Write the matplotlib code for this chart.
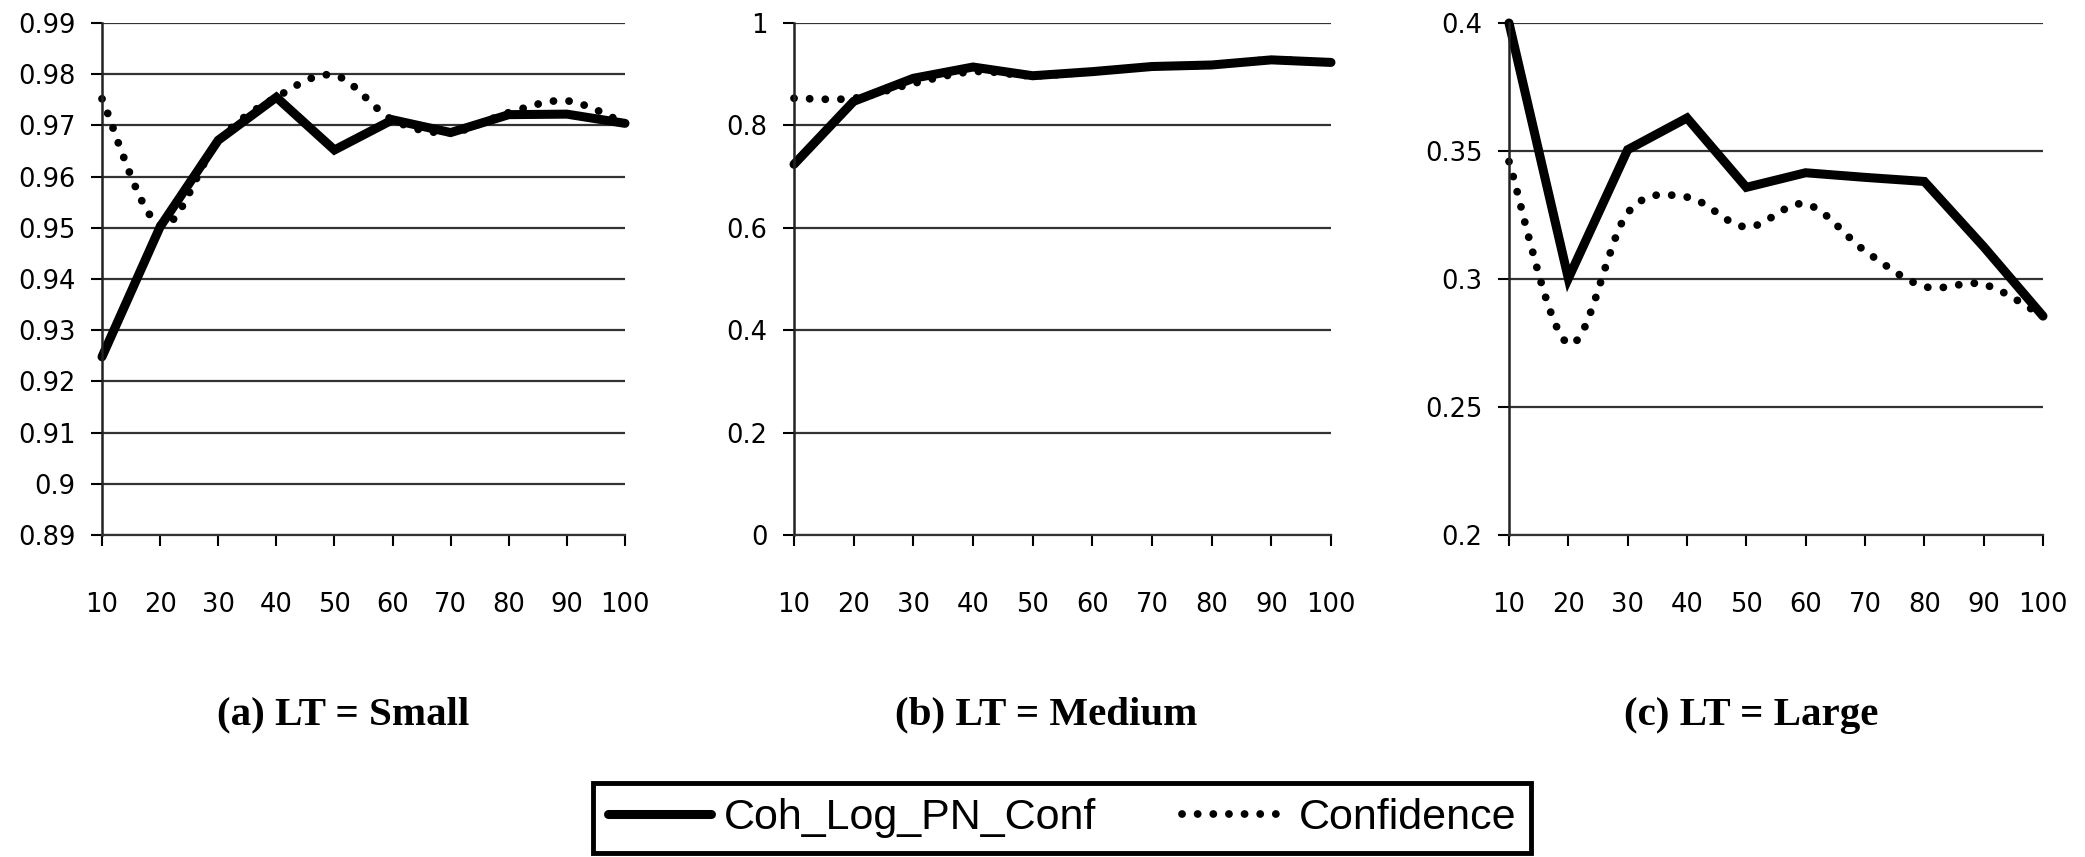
import matplotlib.pyplot as plt
from matplotlib.path import Path
from matplotlib.patches import PathPatch
from matplotlib.lines import Line2D
import numpy as np

# x values (shared by all three panels)
x = [10, 20, 30, 40, 50, 60, 70, 80, 90, 100]

# (a) LT = Small
small_coh = [0.9248, 0.9502, 0.9671, 0.9755, 0.9652, 0.9711, 0.9686, 0.9721, 0.9722, 0.9704]
small_conf = [0.9752, 0.9505, 0.9670, 0.9755, 0.9798, 0.9711, 0.9686, 0.9725, 0.9748, 0.9704]

# (b) LT = Medium
medium_coh = [0.724, 0.847, 0.892, 0.914, 0.897, 0.905, 0.915, 0.918, 0.928, 0.923]
medium_conf = [0.853, 0.853, 0.882, 0.905, 0.897, 0.905, 0.915, 0.918, 0.928, 0.923]

# (c) LT = Large
large_coh = [0.400, 0.3002, 0.3505, 0.3629, 0.3358, 0.3415, 0.3397, 0.3381, 0.3126, 0.2855]
large_conf = [0.3459, 0.2747, 0.3258, 0.3320, 0.3203, 0.3293, 0.3110, 0.2971, 0.2979, 0.2855]

titles = ['(a) LT = Small', '(b) LT = Medium', '(c) LT = Large']
legend_labels = ['Coh_Log_PN_Conf', 'Confidence']

yticks_small = [0.89, 0.90, 0.91, 0.92, 0.93, 0.94, 0.95, 0.96, 0.97, 0.98, 0.99]
ylabels_small = ['0.89', '0.9', '0.91', '0.92', '0.93', '0.94', '0.95', '0.96', '0.97', '0.98', '0.99']
yticks_medium = [0, 0.2, 0.4, 0.6, 0.8, 1.0]
ylabels_medium = ['0', '0.2', '0.4', '0.6', '0.8', '1']
yticks_large = [0.2, 0.25, 0.3, 0.35, 0.4]
ylabels_large = ['0.2', '0.25', '0.3', '0.35', '0.4']

DOTS = (0, (0.01, 2.0))
W, H = 2085, 857


def smooth_path(xs, ys):
    # Excel style smoothed line: cubic bezier through the points
    pts = np.column_stack([xs, ys]).astype(float)
    n = len(pts)
    verts = [pts[0]]
    codes = [Path.MOVETO]
    for i in range(n - 1):
        p0 = pts[max(i - 1, 0)]
        p1 = pts[i]
        p2 = pts[i + 1]
        p3 = pts[min(i + 2, n - 1)]
        verts += [p1 + (p2 - p0) / 6, p2 - (p3 - p1) / 6, p2]
        codes += [Path.CURVE4] * 3
    return Path(verts, codes)


fig = plt.figure(figsize=(W / 100, H / 100), dpi=100)

bottom = 1 - 535 / H
height = (535 - 23) / H
panels = [
    ([102 / W, bottom, 523 / W, height], small_coh, small_conf, yticks_small, ylabels_small),
    ([794 / W, bottom, 537 / W, height], medium_coh, medium_conf, yticks_medium, ylabels_medium),
    ([1509 / W, bottom, 534 / W, height], large_coh, large_conf, yticks_large, ylabels_large),
]
title_x = [343, 1046, 1751]

for (rect, coh, conf, yt, yl), tx, title in zip(panels, title_x, titles):
    ax = fig.add_axes(rect)
    ax.set_xlim(x[0], x[-1])
    ax.set_ylim(yt[0], yt[-1])
    ax.set_yticks(yt)
    ax.set_yticklabels(yl)
    ax.set_xticks(x)
    ax.set_xticklabels([str(v) for v in x])
    ax.grid(axis='y', color='#333333', linewidth=1.6)
    ax.set_axisbelow(True)
    for s in ['top', 'right']:
        ax.spines[s].set_visible(False)
    ax.spines['left'].set_color('#222222')
    ax.spines['left'].set_linewidth(1.8)
    ax.spines['bottom'].set_color('#333333')
    ax.spines['bottom'].set_linewidth(1.6)
    ax.tick_params(axis='y', direction='out', length=8, width=1.5, pad=11,
                   labelsize=18.5, colors='black')
    ax.tick_params(axis='x', direction='out', length=8, width=1.5, pad=33,
                   labelsize=18.5, colors='black')
    for lab in ax.get_xticklabels() + ax.get_yticklabels():
        lab.set_fontfamily('DejaVu Sans')

    patch = PathPatch(smooth_path(x, conf), facecolor='none', edgecolor='black',
                      linewidth=5.6, linestyle=DOTS, capstyle='round', clip_on=False)
    ax.add_patch(patch)
    ax.plot(x, coh, color='black', linewidth=6.5, solid_joinstyle='miter',
            solid_capstyle='round', clip_on=False)

    fig.text(tx / W, 1 - 715 / H, title, ha='center', va='center',
             fontsize=29.5, fontweight='bold', family='Liberation Serif')

handles = [
    Line2D([], [], color='black', linewidth=6.5, solid_capstyle='round'),
    Line2D([], [], color='black', linewidth=5.6, linestyle=DOTS, dash_capstyle='round'),
]
leg = fig.legend(handles, legend_labels, loc='center', bbox_to_anchor=(1062 / W, 1 - 818 / H),
                 ncol=2, frameon=True, fancybox=False, edgecolor='black', framealpha=1,
                 borderpad=0.35, handlelength=2.4, handletextpad=0.3, columnspacing=2.0,
                 prop={'family': 'Liberation Sans', 'size': 31})
leg.get_frame().set_linewidth(3.5)

fig.savefig('out.png', dpi=100)
